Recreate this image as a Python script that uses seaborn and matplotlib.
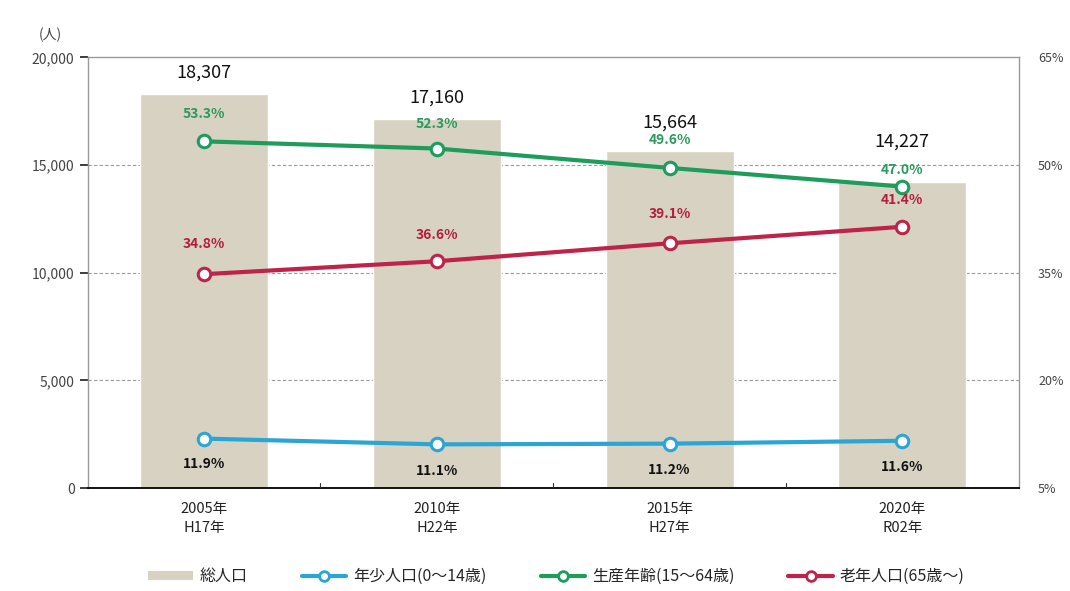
import matplotlib
matplotlib.use("Agg")
import matplotlib.pyplot as plt
import seaborn as sns
import pandas as pd
from matplotlib.patches import Patch
from matplotlib.lines import Line2D

years = ["2005年\nH17年", "2010年\nH22年", "2015年\nH27年", "2020年\nR02年"]
total = [18307, 17160, 15664, 14227]
young_pct = [11.9, 11.1, 11.2, 11.6]
working_pct = [53.3, 52.3, 49.6, 47.0]
elderly_pct = [34.8, 36.6, 39.1, 41.4]
left_ticks = [0, 5000, 10000, 15000, 20000]
right_ticks = [5, 20, 35, 50, 65]

# label offsets in points (kept clear of neighbouring labels)
total_label_offset = [15, 15, 20, 29]
young_label_offset = [-18, -19, -19, -19]
working_label_offset = [20, 18, 20, 12]
elderly_label_offset = [22, 19, 21, 19]

sns.set_theme(style="white")
plt.rcParams["font.family"] = ["Noto Sans CJK JP", "DejaVu Sans"]

bar_color = "#D8D2C2"
c_young = "#2BA5D3"
c_work = "#1E9C5C"
c_old = "#BE2449"

fig = plt.figure(figsize=(10.70, 5.91), dpi=100)
ax = fig.add_axes([0.082, 0.174, 0.870, 0.729])

df = pd.DataFrame({"year": years, "total": total})
sns.barplot(data=df, x="year", y="total", color=bar_color, width=0.55,
            saturation=1, ax=ax, zorder=2)
ax.set_xlim(-0.5, 3.5)
ax.set_ylim(0, 20000)
ax.set_yticks(left_ticks)
ax.set_yticklabels([f"{v:,}" for v in left_ticks], fontsize=10, color="#444444")
ax.set_xlabel("")
ax.set_ylabel("")
ax.tick_params(axis="x", labelsize=10.5, colors="#222222", length=0, pad=10)
ax.set_xticks(range(len(years)))
ax.set_xticklabels(years, linespacing=1.45)
for b in [0.5, 1.5, 2.5]:
    ax.plot([b, b], [0, 250], color="#333333", lw=0.8, zorder=3)
for v in [5000, 10000, 15000]:
    ax.axhline(v, color="#9a9a9a", lw=0.8, ls=(0, (3, 2)), zorder=1)
ax.axhline(20000, color="#888888", lw=1.2, zorder=1)
for s in ["left", "right", "top"]:
    ax.spines[s].set_color("#999999")
    ax.spines[s].set_linewidth(1.0)
ax.spines["bottom"].set_color("#111111")
ax.spines["bottom"].set_linewidth(1.4)

for i, v in enumerate(total):
    ax.annotate(f"{v:,}", (i, v), xytext=(0, total_label_offset[i]),
                textcoords="offset points", ha="center", va="center",
                fontsize=13, color="#111111", zorder=6)

ax.text(-0.04, 1.035, "(人)", transform=ax.transAxes, ha="center",
        va="bottom", fontsize=10, color="#444444")

ax2 = ax.twinx()
ax2.set_ylim(5, 65)
ax2.set_yticks(right_ticks)
ax2.set_yticklabels([f"{v}%" for v in right_ticks], fontsize=9, color="#444444")
ax2.tick_params(axis="y", length=0, pad=14)
ax2.grid(False)
for s in ax2.spines.values():
    s.set_visible(False)

xs = list(range(len(years)))
series = [
    (young_pct, c_young, "#111111", young_label_offset),
    (working_pct, c_work, "#2A9A5E", working_label_offset),
    (elderly_pct, c_old, "#B21E3E", elderly_label_offset),
]
for vals, col, tcol, offs in series:
    sns.lineplot(x=xs, y=vals, ax=ax2, color=col, lw=3, marker="o",
                 markersize=9, markerfacecolor="white", markeredgecolor=col,
                 markeredgewidth=2.2, zorder=4, legend=False)
    for x, v, o in zip(xs, vals, offs):
        ax2.annotate(f"{v:.1f}%", (x, v), xytext=(0, o),
                     textcoords="offset points", ha="center", va="center",
                     fontsize=10, fontweight="bold", color=tcol, zorder=6)
ax2.set_xlim(-0.5, 3.5)

handles = [
    Patch(facecolor=bar_color, edgecolor="none"),
    Line2D([], [], color=c_young, lw=3, marker="o", markersize=7,
           markerfacecolor="white", markeredgecolor=c_young, markeredgewidth=2),
    Line2D([], [], color=c_work, lw=3, marker="o", markersize=7,
           markerfacecolor="white", markeredgecolor=c_work, markeredgewidth=2),
    Line2D([], [], color=c_old, lw=3, marker="o", markersize=7,
           markerfacecolor="white", markeredgecolor=c_old, markeredgewidth=2),
]
labels = ["総人口", "年少人口(0～14歳)", "生産年齢(15～64歳)", "老年人口(65歳～)"]
fig.legend(handles, labels, loc="center", bbox_to_anchor=(0.52, 0.025),
           ncol=4, frameon=False, fontsize=11.5, handlelength=2.8,
           handleheight=0.5, columnspacing=3.4, handletextpad=0.4)

fig.savefig("out.png", dpi=100, facecolor="white")
